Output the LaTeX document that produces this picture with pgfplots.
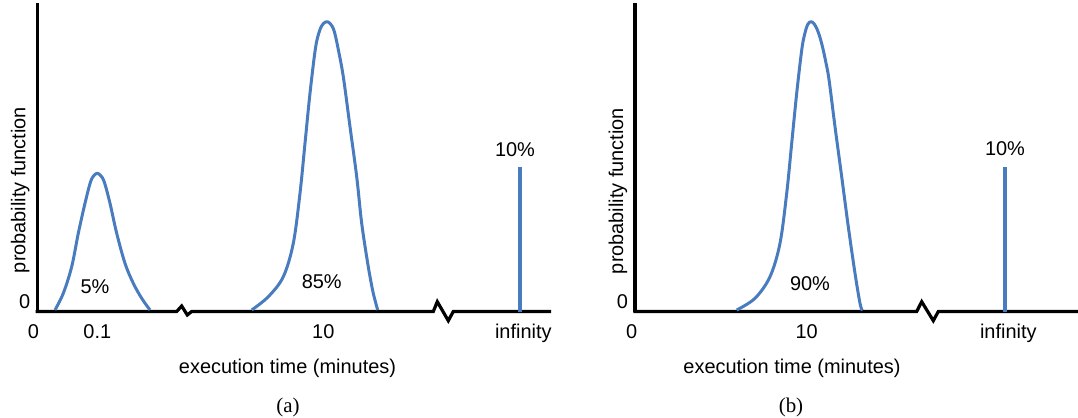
\documentclass[border=0pt]{standalone}
\usepackage{fontspec}
\setmainfont{Liberation Sans}
\newfontfamily\capfont{Liberation Serif}
\usepackage{pgfplots}
\pgfplotsset{compat=1.18}
\definecolor{curveblue}{RGB}{72,124,190}
\pgfplotsset{
  panel/.style={
    x=1bp, y=1bp, anchor=south west,
    ymin=106.5, ymax=415.3,
    axis lines=left,
    axis line style={-},
    x axis line style={draw=none},
    y axis line style={line width=3.2bp, black},
    major tick length=0pt,
    ytick={116.3}, yticklabels={0},
    yticklabel style={anchor=east, inner sep=0pt, xshift=-6.8bp},
    xticklabel style={anchor=base, inner sep=0pt, yshift=-27.4bp},
    clip=false,
    scale only axis,
  },
  curve/.style={curveblue, line width=3bp, smooth, tension=0.55, no marks, line join=round},
  spike/.style={curveblue, line width=3.1bp, no marks},
  baseaxis/.style={black, line width=3.2bp, sharp plot, no marks, line join=miter},
}
\begin{document}
\fontsize{20}{24}\selectfont
\begin{tikzpicture}
\useasboundingbox (0,0) rectangle (1078bp,418bp);
% ---------------- panel (a)
\begin{axis}[panel, at={(37.3bp,106.5bp)}, xmin=37.3, xmax=551,
  xtick={97.3,323.3,523.3}, xticklabels={0.1,10,infinity},
  extra x ticks={37.3}, extra x tick labels={0},
  extra x tick style={xticklabel style={xshift=-4bp}}]
\addplot[baseaxis] coordinates {(35.7,106.5) (176.7,106.5) (181.7,112) (187.3,103) (191.7,106.5) (433.3,106.5) (437.3,116.3) (448.3,97.3) (453.3,106.5) (551,106.5)};
\addplot[curve] coordinates {(55,108) (63.3,124.7) (71.7,151.3) (78.3,184.7) (85,214.7) (90.5,236) (94,242.5) (97.3,244.7) (100.6,242.5) (104.3,236) (110,214.7) (116.7,184.7) (125,154.7) (133.3,134.7) (141.7,119.7) (150,108)};
\addplot[curve] coordinates {(251.7,108) (268.3,121.3) (283.3,141.3) (293.3,174.7) (300,224.7) (305,274.7) (310,324.7) (315.5,370) (319.5,387) (323,394) (326.7,396.3) (330.3,394.3) (334,387.5) (338,370) (343.3,341.3) (350,291.3) (356.7,241.3) (361.7,194.7) (368,153) (373,126) (377.7,108)};
\addplot[spike] coordinates {(520,106.5) (520,251.3)};
\node at (axis cs:95,131.3) {5\%};
\node at (axis cs:321.7,136.3) {85\%};
\node at (axis cs:515,268) {10\%};
\node[rotate=90] at (axis cs:20.3,228) {probability function};
\node at (axis cs:287.5,50) {execution time (minutes)};
\node at (axis cs:288,11) {\capfont\fontsize{21}{25}\selectfont (a)};
\end{axis}
% ---------------- panel (b)
\begin{axis}[panel, at={(635bp,106.5bp)}, xmin=635, xmax=1078,
  xtick={806.7,1008.3}, xticklabels={10,infinity},
  extra x ticks={635}, extra x tick labels={0},
  extra x tick style={xticklabel style={xshift=-3.3bp}}]
\addplot[baseaxis] coordinates {(633.4,106.5) (916.7,106.5) (921.7,116.3) (933.3,97.3) (938.3,106.5) (1078,106.5)};
\addplot[curve] coordinates {(736.7,108) (755,119.7) (770,141.3) (780,174.7) (786.7,224.7) (791.7,274.7) (796.7,324.7) (802,370) (805.5,387) (808,394) (811,396.3) (814,394.3) (817,389) (820,380.5) (823,369) (826,355) (829,338.5) (835,291.3) (841.7,241.3) (848.3,191.3) (855,144.7) (860,114.7) (862.3,107.5)};
\addplot[spike] coordinates {(1005,106.5) (1005,251.3)};
\node at (axis cs:810,134.7) {90\%};
\node at (axis cs:1005,269) {10\%};
\node[rotate=90] at (axis cs:618,227) {probability function};
\node at (axis cs:792,50) {execution time (minutes)};
\node at (axis cs:791,11) {\capfont\fontsize{21}{25}\selectfont (b)};
\end{axis}
\end{tikzpicture}
\end{document}
